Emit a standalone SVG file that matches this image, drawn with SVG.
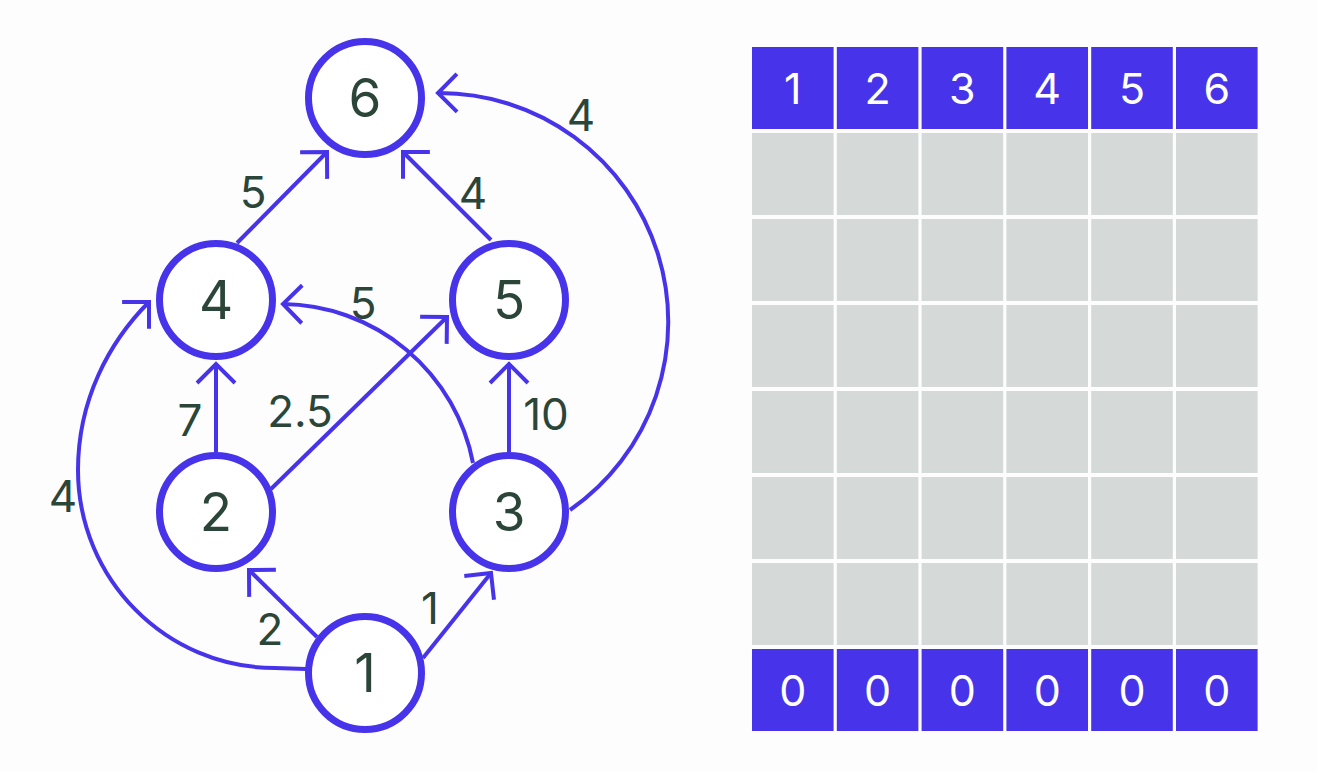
<svg xmlns="http://www.w3.org/2000/svg" width="1317" height="772" viewBox="0 0 1317 772">
  <defs>
    <style>
      .edge { fill: none; stroke: #4734ea; stroke-width: 4; }
      .node circle { fill: #ffffff; stroke: #4734ea; stroke-width: 7; }
      .node text { font-family: Inter, "Liberation Sans", sans-serif; font-size: 53px; fill: #2b4539; text-anchor: middle; }
      .wt { font-family: Inter, "Liberation Sans", sans-serif; font-size: 44px; fill: #2b4539; text-anchor: middle; }
      .head rect, .foot rect { fill: #4734ea; }
      .body rect { fill: #d5d9d8; }
      .cell { font-family: Inter, "Liberation Sans", sans-serif; font-size: 43px; fill: #ffffff; text-anchor: middle; }
    </style>
    <marker id="arrow" markerUnits="userSpaceOnUse" markerWidth="40" markerHeight="50" refX="0" refY="0" viewBox="-25 -25 30 50" orient="auto">
      <path d="M-19,-19 L0,0 L-19,19" fill="none" stroke="#4734ea" stroke-width="4"/>
    </marker>
  </defs>

  <rect x="0" y="0" width="1317" height="772" fill="#fdfdfe"/>

  <!-- edges of the weighted graph -->
  <g id="connectors">
    <path class="edge" d="M237,243 L327,152" marker-end="url(#arrow)"/>
    <path class="edge" d="M491,240 L403,152" marker-end="url(#arrow)"/>
    <path class="edge" d="M570,510 A229,229 0 0 0 438,93" marker-end="url(#arrow)"/>
    <path class="edge" d="M473,463 A196,196 0 0 0 283,304" marker-end="url(#arrow)"/>
    <path class="edge" d="M306,669 L275,668 C166,668 78,579 78,470 C78,400 109,342 149,302" marker-end="url(#arrow)"/>
    <path class="edge" d="M216,452 L216,364" marker-end="url(#arrow)"/>
    <path class="edge" d="M509,452 L509,364" marker-end="url(#arrow)"/>
    <path class="edge" d="M271,489 L447,317" marker-end="url(#arrow)"/>
    <path class="edge" d="M317,637 L249,570" marker-end="url(#arrow)"/>
    <path class="edge" d="M423,658 L491,573" marker-end="url(#arrow)"/>

    <text class="wt" x="253" y="208">5</text>
    <text class="wt" x="473" y="209">4</text>
    <text class="wt" x="581" y="131">4</text>
    <text class="wt" x="363" y="319">5</text>
    <text class="wt" x="190" y="436">7</text>
    <text class="wt" x="300" y="427">2.5</text>
    <text class="wt" x="546" y="430">10</text>
    <text class="wt" x="63" y="512">4</text>
    <text class="wt" x="270" y="645">2</text>
    <text class="wt" x="430" y="624">1</text>
  </g>

  <!-- vertices -->
  <g id="node-6" class="node"><circle cx="365" cy="98" r="56.5"/><text x="365" y="117">6</text></g>
  <g id="node-4" class="node"><circle cx="216" cy="300" r="56.5"/><text x="216" y="319">4</text></g>
  <g id="node-5" class="node"><circle cx="509" cy="300" r="56.5"/><text x="509" y="319">5</text></g>
  <g id="node-2" class="node"><circle cx="216" cy="512" r="56.5"/><text x="216" y="531">2</text></g>
  <g id="node-3" class="node"><circle cx="509" cy="512" r="56.5"/><text x="509" y="531">3</text></g>
  <g id="node-1" class="node"><circle cx="365" cy="673" r="56.5"/><text x="365" y="692">1</text></g>

  <!-- table: header row, six empty rows, initial values -->
  <g id="table">
    <g class="head">
      <rect x="752" y="47" width="81.6" height="82"/>
      <rect x="836.8" y="47" width="81.6" height="82"/>
      <rect x="921.6" y="47" width="81.6" height="82"/>
      <rect x="1006.4" y="47" width="81.6" height="82"/>
      <rect x="1091.2" y="47" width="81.6" height="82"/>
      <rect x="1176" y="47" width="81.6" height="82"/>
      <text class="cell" x="792.8" y="104">1</text>
      <text class="cell" x="877.6" y="104">2</text>
      <text class="cell" x="962.4" y="104">3</text>
      <text class="cell" x="1047.2" y="104">4</text>
      <text class="cell" x="1132" y="104">5</text>
      <text class="cell" x="1216.8" y="104">6</text>
    </g>
    <g class="body">
      <rect x="752" y="133" width="81.6" height="82"/><rect x="836.8" y="133" width="81.6" height="82"/><rect x="921.6" y="133" width="81.6" height="82"/><rect x="1006.4" y="133" width="81.6" height="82"/><rect x="1091.2" y="133" width="81.6" height="82"/><rect x="1176" y="133" width="81.6" height="82"/>
      <rect x="752" y="219" width="81.6" height="82"/><rect x="836.8" y="219" width="81.6" height="82"/><rect x="921.6" y="219" width="81.6" height="82"/><rect x="1006.4" y="219" width="81.6" height="82"/><rect x="1091.2" y="219" width="81.6" height="82"/><rect x="1176" y="219" width="81.6" height="82"/>
      <rect x="752" y="305" width="81.6" height="82"/><rect x="836.8" y="305" width="81.6" height="82"/><rect x="921.6" y="305" width="81.6" height="82"/><rect x="1006.4" y="305" width="81.6" height="82"/><rect x="1091.2" y="305" width="81.6" height="82"/><rect x="1176" y="305" width="81.6" height="82"/>
      <rect x="752" y="391" width="81.6" height="82"/><rect x="836.8" y="391" width="81.6" height="82"/><rect x="921.6" y="391" width="81.6" height="82"/><rect x="1006.4" y="391" width="81.6" height="82"/><rect x="1091.2" y="391" width="81.6" height="82"/><rect x="1176" y="391" width="81.6" height="82"/>
      <rect x="752" y="477" width="81.6" height="82"/><rect x="836.8" y="477" width="81.6" height="82"/><rect x="921.6" y="477" width="81.6" height="82"/><rect x="1006.4" y="477" width="81.6" height="82"/><rect x="1091.2" y="477" width="81.6" height="82"/><rect x="1176" y="477" width="81.6" height="82"/>
      <rect x="752" y="563" width="81.6" height="82"/><rect x="836.8" y="563" width="81.6" height="82"/><rect x="921.6" y="563" width="81.6" height="82"/><rect x="1006.4" y="563" width="81.6" height="82"/><rect x="1091.2" y="563" width="81.6" height="82"/><rect x="1176" y="563" width="81.6" height="82"/>
    </g>
    <g class="foot">
      <rect x="752" y="649" width="81.6" height="82"/>
      <rect x="836.8" y="649" width="81.6" height="82"/>
      <rect x="921.6" y="649" width="81.6" height="82"/>
      <rect x="1006.4" y="649" width="81.6" height="82"/>
      <rect x="1091.2" y="649" width="81.6" height="82"/>
      <rect x="1176" y="649" width="81.6" height="82"/>
      <text class="cell" x="792.8" y="706">0</text>
      <text class="cell" x="877.6" y="706">0</text>
      <text class="cell" x="962.4" y="706">0</text>
      <text class="cell" x="1047.2" y="706">0</text>
      <text class="cell" x="1132" y="706">0</text>
      <text class="cell" x="1216.8" y="706">0</text>
    </g>
  </g>
</svg>
